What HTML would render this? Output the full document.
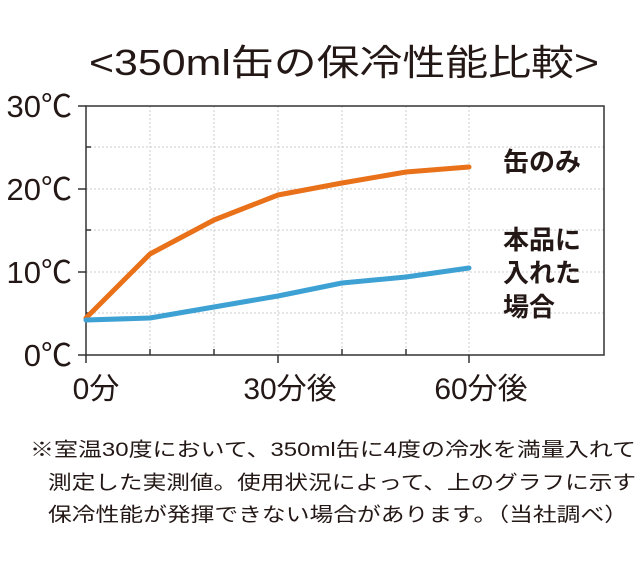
<!DOCTYPE html>
<html><head><meta charset="utf-8"><style>
body{margin:0;background:#fff;width:640px;height:568px;overflow:hidden;font-family:"Liberation Sans","Noto Sans CJK JP",sans-serif;color:#231815}
</style></head><body>
<svg width="640" height="568" xmlns="http://www.w3.org/2000/svg" style="position:absolute;left:0;top:0">
<g font-family="Liberation Sans, Noto Sans CJK JP, sans-serif" fill="#231815">
<text x="344" y="75" font-size="36" text-anchor="middle" textLength="510" lengthAdjust="spacingAndGlyphs">&lt;350ml缶の保冷性能比較&gt;</text>
<g stroke="#ccc" stroke-width="1" stroke-dasharray="2,2">
<line x1="86" x2="604" y1="147" y2="147"/><line x1="86" x2="604" y1="189" y2="189"/>
<line x1="86" x2="604" y1="230" y2="230"/><line x1="86" x2="604" y1="272" y2="272"/>
<line x1="86" x2="604" y1="313" y2="313"/>
<line x1="150" x2="150" y1="106" y2="355"/><line x1="214" x2="214" y1="106" y2="355"/>
<line x1="278" x2="278" y1="106" y2="355"/><line x1="342" x2="342" y1="106" y2="355"/>
<line x1="406" x2="406" y1="106" y2="355"/><line x1="469" x2="469" y1="106" y2="355"/>
</g>
<rect x="86" y="106" width="518" height="249" fill="none" stroke="#333" stroke-width="1.5"/>
<g stroke="#333" stroke-width="1.5">
<line x1="78" x2="86" y1="106" y2="106"/><line x1="78" x2="86" y1="189" y2="189"/><line x1="78" x2="86" y1="272" y2="272"/><line x1="78" x2="86" y1="355" y2="355"/>
<line x1="86" x2="91" y1="147" y2="147"/><line x1="86" x2="91" y1="230" y2="230"/><line x1="86" x2="91" y1="313" y2="313"/>
<line x1="86" x2="86" y1="355" y2="363"/><line x1="278" x2="278" y1="355" y2="363"/><line x1="469" x2="469" y1="355" y2="363"/>
<line x1="150" x2="150" y1="349" y2="355"/><line x1="214" x2="214" y1="349" y2="355"/><line x1="342" x2="342" y1="349" y2="355"/><line x1="406" x2="406" y1="349" y2="355"/>
</g>
<polyline fill="none" stroke="#e8711a" stroke-width="5" stroke-linejoin="round" stroke-linecap="round" points="86,318 150,254 214,220 278,195 342,183 406,172 469,167"/>
<polyline fill="none" stroke="#3ea1d4" stroke-width="5" stroke-linejoin="round" stroke-linecap="round" points="86,320 150,318 214,307 278,296 342,283 406,277 469,268"/>
<g font-size="31" text-anchor="end">
<text x="72" y="117">30℃</text><text x="72" y="200">20℃</text><text x="72" y="283">10℃</text><text x="72" y="366">0℃</text>
</g>
<g font-size="30" text-anchor="middle">
<text x="96" y="399">0分</text><text x="290" y="399">30分後</text><text x="481" y="399">60分後</text>
</g>
<g font-size="26" font-weight="bold">
<text x="503" y="171">缶のみ</text>
<text x="503" y="249">本品に</text><text x="503" y="282">入れた</text><text x="503" y="316">場合</text>
</g>
<g font-size="19.5">
<text x="30" y="456" textLength="606" lengthAdjust="spacingAndGlyphs">※室温30度において、350ml缶に4度の冷水を満量入れて</text>
<text x="48" y="489" textLength="588" lengthAdjust="spacingAndGlyphs">測定した実測値。使用状況によって、上のグラフに示す</text>
<text x="48" y="521" textLength="580" lengthAdjust="spacingAndGlyphs">保冷性能が発揮できない場合があります。（当社調べ）</text>
</g>
</g>
</svg>
</body></html>
